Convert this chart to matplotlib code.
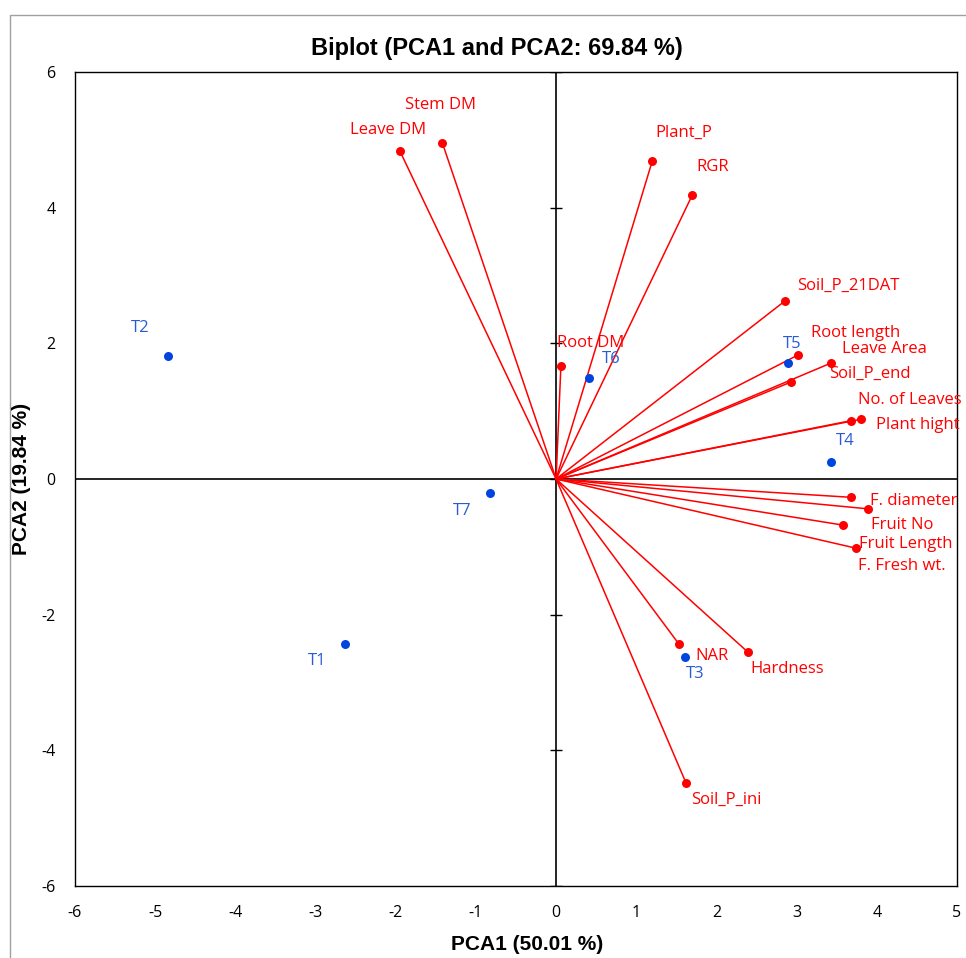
import matplotlib
matplotlib.use("Agg")
import matplotlib.pyplot as plt
from matplotlib.patches import Rectangle
import numpy as np

plt.rcParams["axes.unicode_minus"] = False

# variable loadings (red)
var_names = ["Leave DM", "Stem DM", "Plant_P", "RGR", "Soil_P_21DAT", "Root length",
             "Leave Area", "Soil_P_end", "No. of Leaves", "Plant hight", "Root DM",
             "F. diameter", "F. Fresh wt.", "Fruit No", "Fruit Length",
             "NAR", "Hardness", "Soil_P_ini"]
var_x = [-1.95, -1.42, 1.20, 1.70, 2.86, 3.02, 3.43, 2.93, 3.80, 3.68, 0.06,
         3.68, 3.89, 3.58, 3.74, 1.53, 2.39, 1.62]
var_y = [4.84, 4.96, 4.69, 4.19, 2.63, 1.83, 1.71, 1.43, 0.88, 0.86, 1.67,
         -0.27, -0.44, -0.68, -1.02, -2.43, -2.55, -4.48]

# treatment scores (blue)
trt_names = ["T1", "T2", "T3", "T4", "T5", "T6", "T7"]
trt_x = [-2.63, -4.84, 1.61, 3.43, 2.89, 0.41, -0.82]
trt_y = [-2.43, 1.81, -2.63, 0.25, 1.71, 1.49, -0.21]

# label offsets in pixels (dx, dy up)
var_off = [(-12, 21), (-2, 38), (32, 28), (20, 28), (63, 15), (57, 22),
           (53, 14), (79, 8), (49, 19), (67, -4), (30, 23),
           (63, -4), (34, -57), (59, 0), (50, 4),
           (33, -12), (39, -17), (40, -17)]
trt_off = [(-28, -17), (-28, 28), (10, -17), (14, 21), (4, 19), (22, 19), (-28, -18)]

red = "#FF0000"
blue = "#0044E0"
lab_font = "Open Sans"

fig = plt.figure(figsize=(9.66, 9.58), dpi=100)
ax = fig.add_axes([75/966, 1-886/958, 882/966, 814/958])

ax.set_xlim(-6, 5)
ax.set_ylim(-6, 6)
xt = np.arange(-6, 6, 1)
yt = np.arange(-6, 7, 2)
ax.set_xticks(xt)
ax.set_yticks(yt)
ax.tick_params(length=0, labelsize=11.5)
for t in ax.get_xticklabels() + ax.get_yticklabels():
    t.set_family(lab_font)
ax.tick_params(axis="x", pad=14)
ax.tick_params(axis="y", pad=14)
for s in ax.spines.values():
    s.set_linewidth(1.0)

ax.axhline(0, color="black", lw=1.2, zorder=1)
ax.axvline(0, color="black", lw=1.2, zorder=1)
ax.plot(np.zeros(len(yt)), yt, ls="none", marker="_", ms=8, mew=1.0, color="black", zorder=1)

for x, y in zip(var_x, var_y):
    ax.plot([0, x], [0, y], color=red, lw=1.1, zorder=2)
ax.scatter(var_x, var_y, s=42, color=red, zorder=3, linewidths=0)
ax.scatter(trt_x, trt_y, s=42, color=blue, zorder=3, linewidths=0)

for n, x, y, o in zip(var_names, var_x, var_y, var_off):
    ax.annotate(n, (x, y), xytext=o, textcoords="offset pixels", ha="center", va="center",
                color=red, fontsize=12, family=lab_font, zorder=4)
for n, x, y, o in zip(trt_names, trt_x, trt_y, trt_off):
    ax.annotate(n, (x, y), xytext=o, textcoords="offset pixels", ha="center", va="center",
                color="#2A5BD7", fontsize=12, family=lab_font, zorder=4)

fig.text(497/966, 1-49/958, "Biplot (PCA1 and PCA2: 69.84 %)", ha="center", va="center",
         fontsize=17, fontweight="bold", family="Liberation Sans")
fig.text(527/966, 1-944/958, "PCA1 (50.01 %)", ha="center", va="center",
         fontsize=15, fontweight="bold", family="Liberation Sans")
fig.text(22/966, 1-479/958, "PCA2 (19.84 %)", ha="center", va="center", rotation=90,
         fontsize=15, fontweight="bold", family="Liberation Sans")

# outer chart border
fig.patches.append(Rectangle((10/966, -0.01), 1.0, 1-15/958 + 0.01, transform=fig.transFigure,
                             fill=False, edgecolor="#A0A0A0", lw=1.0))

fig.savefig("out.png", dpi=100)
